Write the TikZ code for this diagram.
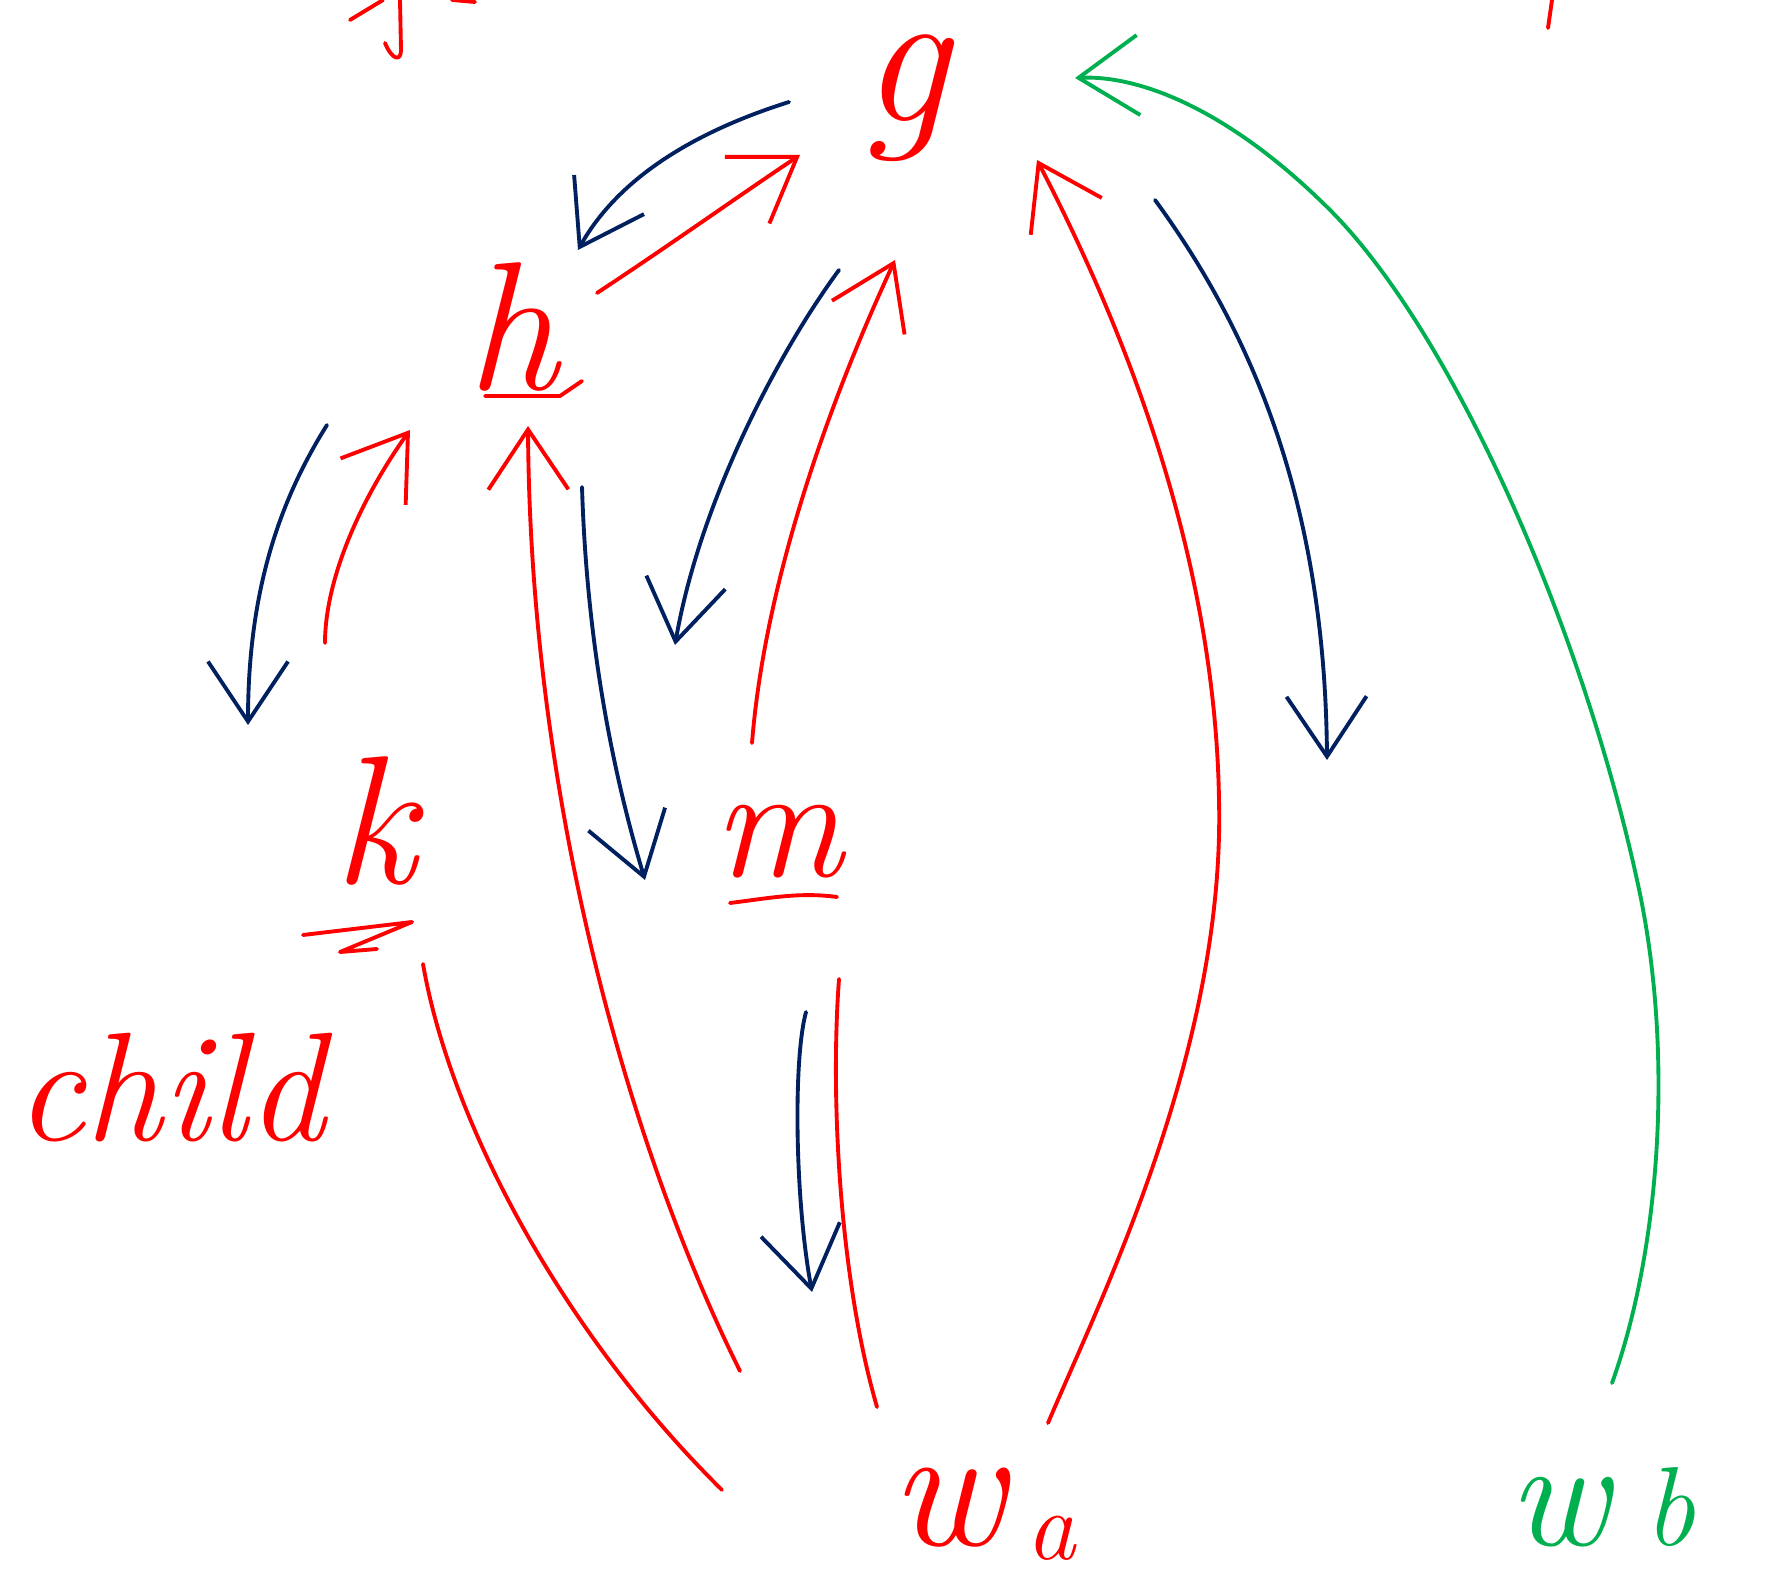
\documentclass[tikz,border=0pt]{standalone}
\usepackage{fontspec}
\usetikzlibrary{arrows.meta}
\definecolor{inkred}{RGB}{255,0,0}
\definecolor{inkblue}{RGB}{0,32,96}
\definecolor{inkgreen}{RGB}{0,176,80}
\tikzset{
  ink/.style={line width=1.1pt, line cap=round, line join=round},
  redink/.style={ink, draw=inkred},
  blueink/.style={ink, draw=inkblue},
  greenink/.style={ink, draw=inkgreen},
  arr/.style={-{Straight Barb[length=6mm,width=8mm]}},
  letter/.style={text=inkred, inner sep=0pt, anchor=base, font=\fontsize{52}{60}\selectfont\itshape},
}
\newcommand{\subtext}[3]{\raisebox{#1}{\fontsize{#3}{36}\selectfont\itshape #2}}
\begin{document}
\begin{tikzpicture}[x=0.01cm,y=-0.01cm]
\useasboundingbox (0,0) rectangle (1770,1583);
% labels
\node[letter, font=\fontsize{56}{62}\selectfont\itshape] (g) at (905,122) {g};
\node[letter] (h) at (512,390) {h};
\node[letter] (k) at (375,884) {k};
\node[letter, font=\fontsize{46}{52}\selectfont\itshape] (m) at (778,877) {m};
\node[letter, font=\fontsize{44}{50}\selectfont\itshape] (child) at (170,1140) {child};
\node[letter, anchor=base west, font=\fontsize{50}{56}\selectfont\itshape] (wa) at (890,1545) {w\hspace{6pt}\subtext{-4pt}{a}{28}};
\node[letter, anchor=base west, text=inkgreen, font=\fontsize{44}{50}\selectfont\itshape] (wb) at (1508,1545) {w\hspace{10pt}\subtext{0pt}{b}{32}};
% underlines
\draw[redink] (485,396) -- (560,396) -- (582,381);
\draw[redink] (303,935) -- (412,922) -- (340,952) -- (377,949);
\draw[redink] (730,903) .. controls (770,898) and (800,892) .. (837,897);
% fragments at the top edge
\draw[redink] (350,20) -- (383,0);
\draw[redink] (400,0) -- (401,50) .. controls (401,62) and (392,60) .. (385,43);
\draw[redink] (452,0) -- (475,2);
\draw[redink] (1552,0) -- (1548,28);
% connector end points
\coordinate (gA) at (789,102);   \coordinate (hA) at (578,250);
\coordinate (hB) at (597,293);   \coordinate (gB) at (800,155);
\coordinate (gC) at (839,270);   \coordinate (mC) at (675,645);
\coordinate (mD) at (752,743);   \coordinate (gD) at (895,260);
\coordinate (hE) at (327,425);   \coordinate (kE) at (248,725);
\coordinate (kF) at (325,643);   \coordinate (hF) at (410,430);
\coordinate (waG) at (740,1371); \coordinate (hG) at (528,426);
\coordinate (hH) at (582,487);   \coordinate (mH) at (645,880);
\coordinate (kI) at (423,964);   \coordinate (waI) at (722,1490);
\coordinate (mJ) at (806,1012);  \coordinate (waJ) at (812,1292);
\coordinate (mK) at (839,979);   \coordinate (waK) at (877,1407);
\coordinate (waL) at (1048,1423);\coordinate (gL) at (1037,160);
\coordinate (gM) at (1155,200);  \coordinate (endM) at (1327,760);
\coordinate (wbN) at (1612,1383);\coordinate (gN) at (1075,78);
% connectors
\draw[blueink, arr] (gA) .. controls (700,130) and (620,175) .. (hA);
\draw[redink, arr] (hB) .. controls (670,245) and (740,195) .. (gB);
\draw[blueink, arr] (gC) .. controls (780,350) and (700,500) .. (mC);
\draw[redink, arr] (mD) .. controls (765,580) and (830,400) .. (gD);
\draw[blueink, arr] (hE) .. controls (280,500) and (248,590) .. (kE);
\draw[redink, arr] (kF) .. controls (325,580) and (360,500) .. (hF);
\draw[redink, arr] (waG) .. controls (630,1150) and (530,800) .. (hG);
\draw[blueink, arr] (hH) .. controls (587,650) and (615,780) .. (mH);
\draw[redink] (kI) .. controls (450,1120) and (560,1330) .. (waI);
\draw[blueink, arr] (mJ) .. controls (793,1060) and (795,1200) .. (waJ);
\draw[redink] (mK) .. controls (830,1100) and (840,1280) .. (waK);
\draw[redink, arr] (waL) .. controls (1100,1300) and (1225,1050) .. (1219,800)
  .. controls (1215,550) and (1120,320) .. (gL);
\draw[blueink, arr] (gM) .. controls (1250,330) and (1325,500) .. (endM);
\draw[greenink, arr] (wbN) .. controls (1660,1250) and (1675,1050) .. (1637,880)
  .. controls (1580,620) and (1450,330) .. (1330,210)
  .. controls (1230,110) and (1140,75) .. (gN);
\end{tikzpicture}
\end{document}
